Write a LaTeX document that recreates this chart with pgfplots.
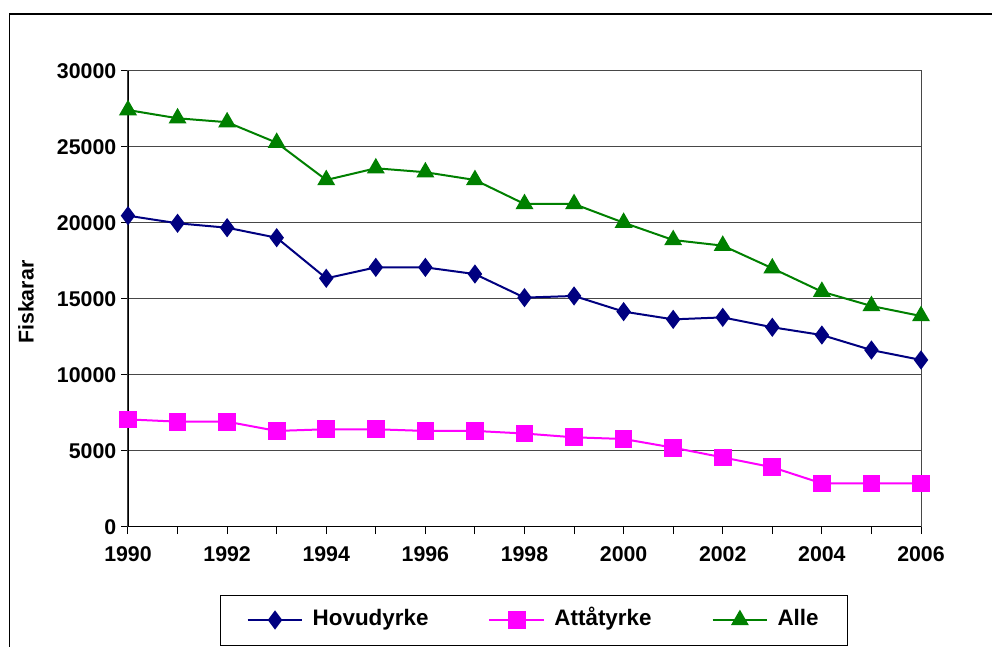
\documentclass[border=0pt]{standalone}
\usepackage{fontspec}
\setmainfont{Liberation Sans}
\usepackage{pgfplots}
\pgfplotsset{compat=1.18}
\definecolor{hov}{HTML}{000080}
\definecolor{att}{HTML}{FF00FF}
\definecolor{alle}{HTML}{008000}
\begin{document}
\begin{tikzpicture}
\clip (0,0) rectangle (744pt,484.5pt);
\draw[black, line width=1pt] (7.1pt,-20pt) rectangle (800pt,474pt);
\begin{axis}[
  at={(96pt,89.25pt)}, anchor=south west,
  width=594.75pt, height=342pt, scale only axis,
  xmin=1990, xmax=2006, ymin=0, ymax=30000,
  scaled y ticks=false, scaled x ticks=false,
  xtick={1990,1991,...,2006},
  xticklabels={1990,,1992,,1994,,1996,,1998,,2000,,2002,,2004,,2006},
  ytick={0,5000,...,30000},
  yticklabels={0,5000,10000,15000,20000,25000,30000},
  tick pos=left, tick align=outside,
  major tick length=5.25pt,
  tick style={black, line width=0.75pt},
  ymajorgrids,
  major grid style={black!72, line width=0.75pt},
  axis line style={black!72, line width=0.75pt},
  ticklabel style={font=\bfseries\fontsize{16}{19}\selectfont},
  xticklabel style={yshift=-6pt},
  /pgf/number format/assume math mode=true,
  ylabel={Fiskarar},
  every axis y label/.style={at={(axis description cs:-0.1286,0.493)}, rotate=90, anchor=center, font=\bfseries\fontsize{16}{19}\selectfont},
  legend columns=3,
  legend image code/.code={\draw[mark repeat=2,mark phase=2] plot coordinates {(0pt,0pt) (20.5pt,0pt) (41pt,0pt)};},
  legend style={at={(0.512,-0.204)}, anchor=center, draw=black, line width=0.75pt,
    font=\bfseries\fontsize{16.8}{19}\selectfont,
    inner xsep=20pt, inner ysep=9pt,
    /tikz/every odd column/.append style={column sep=5pt},
    /tikz/every even column/.append style={column sep=43pt},
    cells={anchor=west},
    nodes={text height=12pt, text depth=3.5pt}},
]
\addplot[hov, line width=1.5pt, mark=diamond*, mark size=6pt, mark options={fill=hov, draw=hov}] coordinates {
(1990,20480) (1991,19980) (1992,19690) (1993,19030) (1994,16360) (1995,17080) (1996,17080) (1997,16640) (1998,15090) (1999,15200) (2000,14170) (2001,13660) (2002,13790) (2003,13140) (2004,12630) (2005,11640) (2006,10990)};
\addlegendentry{Hovudyrke}
\addplot[att, line width=1.5pt, mark=square*, mark size=5.9pt, mark options={fill=att, draw=att}] coordinates {
(1990,7080) (1991,6930) (1992,6930) (1993,6320) (1994,6430) (1995,6430) (1996,6320) (1997,6320) (1998,6150) (1999,5900) (2000,5790) (2001,5220) (2002,4580) (2003,3930) (2004,2870) (2005,2870) (2006,2870)};
\addlegendentry{Attåtyrke}
\addplot[alle, line width=1.5pt, mark=triangle*, mark size=6.3pt, mark options={fill=alle, draw=alle}] coordinates {
(1990,27430) (1991,26890) (1992,26630) (1993,25280) (1994,22830) (1995,23600) (1996,23340) (1997,22830) (1998,21250) (1999,21250) (2000,20020) (2001,18880) (2002,18510) (2003,17020) (2004,15480) (2005,14540) (2006,13880)};
\addlegendentry{Alle}
\draw[black, line width=1pt] (rel axis cs:0,1) -- (rel axis cs:0,0) -- (rel axis cs:1,0);
\end{axis}
\end{tikzpicture}
\end{document}
